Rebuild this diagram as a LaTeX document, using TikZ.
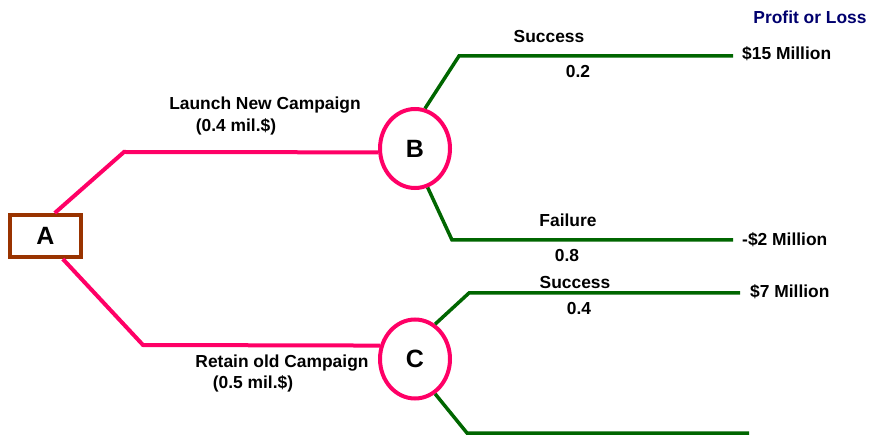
\documentclass[tikz,border=0pt]{standalone}
\usepackage{fontspec}
\setmainfont{Liberation Sans}
\usetikzlibrary{shapes.geometric}
\definecolor{actpink}{RGB}{255,0,102}
\definecolor{stategreen}{RGB}{0,102,0}
\definecolor{boxbrown}{RGB}{153,51,0}
\definecolor{headnavy}{RGB}{0,0,110}
\tikzset{
  decision/.style = {rectangle, draw=boxbrown, line width=4pt, fill=white, minimum width=71pt, minimum height=42pt, inner sep=0pt, font=\fontsize{25}{30}\selectfont\bfseries},
  chance/.style   = {ellipse, draw=actpink, line width=4pt, fill=white, minimum width=70pt, minimum height=79pt, inner sep=0pt, font=\fontsize{25}{30}\selectfont\bfseries},
  actwire/.style  = {actpink, line width=4pt},
  statewire/.style = {stategreen, line width=3.5pt},
  lbl/.style      = {anchor=base, inner sep=0pt, font=\fontsize{17.4}{20}\selectfont\bfseries},
  payoff/.style   = {lbl, anchor=base west}
}

\begin{document}
\begin{tikzpicture}[x=1pt, y=-1pt]
    \useasboundingbox (0,0) rectangle (872,435);
    % Decision and chance nodes
    \node[decision] (A) at (45.5,236) {A};
    \node[chance] (B) at (415,148.5) {B};
    \node[chance] (C) at (415,359) {C};
    % Bends and free ends
    \coordinate (kB) at (124,152);
    \coordinate (kC) at (143,345);
    \coordinate (kB1) at (459,56);   \coordinate (eB1) at (733,56);
    \coordinate (kB2) at (452,240);  \coordinate (eB2) at (733,240);
    \coordinate (kC1) at (469,293);  \coordinate (eC1) at (740,293);
    \coordinate (kC2) at (467,433);  \coordinate (eC2) at (749,433);
    % Actions
    \draw[actwire] (A.68) -- (kB) -- (B.186);
    \draw[actwire] (A.-53) -- (kC) -- (C.159);
    % Outcomes
    \draw[statewire] (B.76) -- (kB1) -- (eB1);
    \draw[statewire] (B.-72) -- (kB2) -- (eB2);
    \draw[statewire] (C.60) -- (kC1) -- (eC1);
    \draw[statewire] (C.-60) -- (kC2) -- (eC2);
    % Action labels
    \node[lbl] (launch) at (265,110) {Launch New Campaign};
    \node[lbl] (launchcost) at (236,132) {(0.4 mil.\$)};
    \node[lbl] (retain) at (282,367) {Retain old Campaign};
    \node[lbl] (retaincost) at (253,388) {(0.5 mil.\$)};
    % Outcome labels and probabilities
    \node[lbl] (sB1) at (549,43) {Success};
    \node[lbl] (pB1) at (578,78) {0.2};
    \node[lbl] (sB2) at (568,227) {Failure};
    \node[lbl] (pB2) at (567,262) {0.8};
    \node[lbl] (sC1) at (575,289) {Success};
    \node[lbl] (pC1) at (579,315) {0.4};
    % Payoffs
    \node[lbl, headnavy] (head) at (810,24) {Profit or Loss};
    \node[payoff] (vB1) at (742,60) {\$15 Million};
    \node[payoff] (vB2) at (742,246) {-\$2 Million};
    \node[payoff] (vC1) at (750,298) {\$7 Million};
\end{tikzpicture}
\end{document}
